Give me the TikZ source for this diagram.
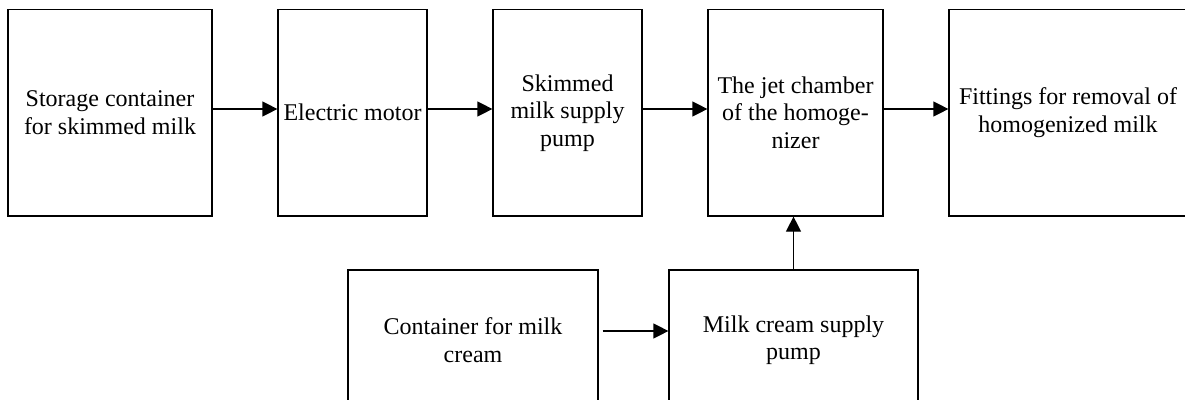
\documentclass[tikz,border=0pt]{standalone}
\usepackage{fontspec}
\setmainfont{Liberation Serif}
\usetikzlibrary{arrows.meta}
\begin{document}
\begin{tikzpicture}[x=1pt,y=-1pt,
  box/.style={draw=black,line width=1.2pt,rectangle,inner sep=0pt,align=center,
    font=\fontsize{24}{27.5}\selectfont},
  arr/.style={line width=1.2pt,-{Triangle[length=15pt,width=15pt]}}]
\useasboundingbox (0,0) rectangle (1185,399);
\node[box,minimum width=204pt,minimum height=206.5pt] (b1) at (110,112.75) {Storage container\\for skimmed milk};
\node[box,minimum width=149pt,minimum height=206.5pt] (b2) at (352.5,112.75) {Electric motor};
\node[box,minimum width=149pt,minimum height=206.5pt] (b3) at (567.5,112.75) {Skimmed\\milk supply\\pump};
\node[box,minimum width=175pt,minimum height=206.5pt] (b4) at (795.5,112.75) {The jet chamber\\of the homoge-\\nizer};
\node[box,minimum width=238pt,minimum height=206.5pt] (b5) at (1068,112.75) {Fittings for removal of\\homogenized milk};
\node[box,minimum width=250pt,minimum height=140pt] (b6) at (473,340) {Container for milk\\cream};
\node[box,minimum width=249pt,minimum height=140pt] (b7) at (793.5,340) {Milk cream supply\\pump};
\draw[arr] ([yshift=3.75pt]b1.east) -- ([yshift=3.75pt]b2.west);
\draw[arr] ([yshift=3.75pt]b2.east) -- ([yshift=3.75pt]b3.west);
\draw[arr] ([yshift=3.75pt]b3.east) -- ([yshift=3.75pt]b4.west);
\draw[arr] ([yshift=3.75pt]b4.east) -- ([yshift=3.75pt]b5.west);
\draw[arr,shorten <=4pt] ([yshift=9pt]b6.east) -- ([yshift=9pt]b7.west);
\draw[arr] (b7.north) -- (b7.north |- b4.south);
\end{tikzpicture}
\end{document}
